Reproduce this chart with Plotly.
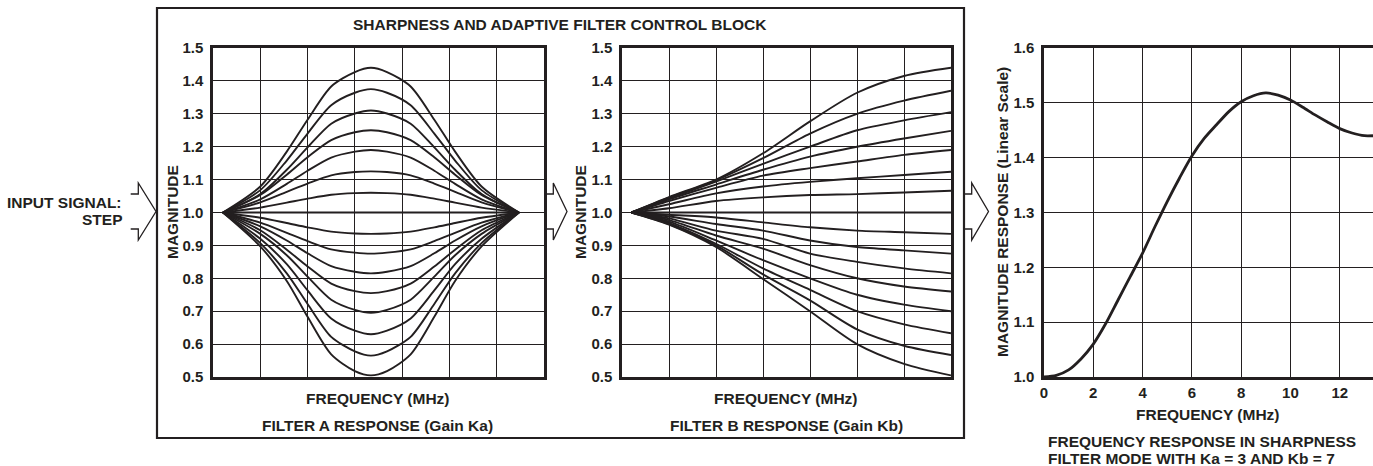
import plotly.graph_objects as go

# ---------------- data ----------------
# Filter A (left panel): symmetric bell-shaped responses, x in grid units (0..7)
A_X = [0.21, 1.0, 1.56, 2.0, 2.5, 3.0, 3.34, 3.68, 4.18, 4.68, 5.12, 5.68, 6.47]
A_144 = [1.0, 1.079, 1.185, 1.282, 1.383, 1.427, 1.44, 1.427, 1.383, 1.282, 1.185, 1.079, 1.0]
A_1375 = [1.0, 1.068, 1.158, 1.24, 1.326, 1.364, 1.375, 1.364, 1.326, 1.24, 1.158, 1.068, 1.0]
A_131 = [1.0, 1.056, 1.130, 1.198, 1.270, 1.301, 1.31, 1.301, 1.270, 1.198, 1.130, 1.056, 1.0]
A_125 = [1.0, 1.053, 1.115, 1.168, 1.22, 1.244, 1.25, 1.244, 1.22, 1.168, 1.115, 1.053, 1.0]
A_119 = [1.0, 1.040, 1.087, 1.127, 1.167, 1.185, 1.19, 1.185, 1.167, 1.127, 1.087, 1.040, 1.0]
A_1125 = [1.0, 1.031, 1.063, 1.088, 1.113, 1.123, 1.125, 1.123, 1.113, 1.088, 1.063, 1.031, 1.0]
A_106 = [1.0, 1.015, 1.03, 1.042, 1.054, 1.059, 1.06, 1.059, 1.054, 1.042, 1.03, 1.015, 1.0]
A_100 = [1.0, 1.0, 1.0, 1.0, 1.0, 1.0, 1.0, 1.0, 1.0, 1.0, 1.0, 1.0, 1.0]
A_0935 = [1.0, 0.984, 0.968, 0.955, 0.942, 0.936, 0.935, 0.936, 0.942, 0.955, 0.968, 0.984, 1.0]
A_0875 = [1.0, 0.969, 0.938, 0.913, 0.888, 0.878, 0.875, 0.878, 0.888, 0.913, 0.938, 0.969, 1.0]
A_0815 = [1.0, 0.958, 0.915, 0.876, 0.837, 0.820, 0.815, 0.820, 0.837, 0.876, 0.915, 0.958, 1.0]
A_0755 = [1.0, 0.946, 0.887, 0.836, 0.784, 0.761, 0.755, 0.761, 0.784, 0.836, 0.887, 0.946, 1.0]
A_0695 = [1.0, 0.935, 0.870, 0.805, 0.735, 0.704, 0.695, 0.704, 0.735, 0.805, 0.870, 0.935, 1.0]
A_063 = [1.0, 0.920, 0.843, 0.763, 0.678, 0.641, 0.63, 0.641, 0.678, 0.763, 0.843, 0.920, 1.0]
A_0565 = [1.0, 0.907, 0.815, 0.722, 0.622, 0.578, 0.565, 0.578, 0.622, 0.722, 0.815, 0.907, 1.0]
A_0505 = [1.0, 0.897, 0.792, 0.683, 0.569, 0.518, 0.505, 0.518, 0.569, 0.683, 0.792, 0.897, 1.0]
A_CURVES = [A_144, A_1375, A_131, A_125, A_119, A_1125, A_106, A_100,
            A_0935, A_0875, A_0815, A_0755, A_0695, A_063, A_0565, A_0505]

# Filter B (middle panel): high-frequency boost / cut responses
B_X = [0.2, 1, 2, 3, 4, 5, 6, 7]
B_144 = [1.0, 1.047, 1.100, 1.180, 1.277, 1.364, 1.415, 1.440]
B_137 = [1.0, 1.045, 1.098, 1.165, 1.240, 1.300, 1.340, 1.370]
B_130 = [1.0, 1.043, 1.094, 1.148, 1.200, 1.250, 1.280, 1.305]
B_125 = [1.0, 1.040, 1.085, 1.130, 1.170, 1.200, 1.225, 1.248]
B_119 = [1.0, 1.035, 1.075, 1.112, 1.135, 1.155, 1.175, 1.190]
B_112 = [1.0, 1.025, 1.058, 1.079, 1.093, 1.104, 1.114, 1.124]
B_106 = [1.0, 1.013, 1.035, 1.046, 1.053, 1.056, 1.061, 1.066]
B_100 = [1.0, 1.0, 1.0, 1.0, 1.0, 1.0, 1.0, 1.0]
B_0935 = [1.0, 0.993, 0.985, 0.970, 0.955, 0.945, 0.940, 0.935]
B_0875 = [1.0, 0.988, 0.965, 0.945, 0.915, 0.895, 0.885, 0.875]
B_0815 = [1.0, 0.982, 0.945, 0.920, 0.875, 0.850, 0.830, 0.815]
B_076 = [1.0, 0.977, 0.930, 0.890, 0.840, 0.800, 0.775, 0.760]
B_070 = [1.0, 0.972, 0.915, 0.855, 0.800, 0.750, 0.720, 0.700]
B_0635 = [1.0, 0.968, 0.905, 0.830, 0.765, 0.700, 0.660, 0.633]
B_057 = [1.0, 0.965, 0.900, 0.812, 0.733, 0.645, 0.595, 0.567]
B_0505 = [1.0, 0.963, 0.895, 0.798, 0.700, 0.600, 0.540, 0.505]
B_CURVES = [B_144, B_137, B_130, B_125, B_119, B_112, B_106, B_100,
            B_0935, B_0875, B_0815, B_076, B_070, B_0635, B_057, B_0505]

# Combined sharpness response (right panel)
R_FREQ = [0, 0.5, 1, 1.5, 2, 2.5, 3, 3.5, 4, 4.5, 5, 5.5, 6, 6.5, 7, 7.5, 8, 8.5,
          9, 9.5, 10, 10.5, 11, 11.5, 12, 12.5, 13, 13.35]
R_MAG = [1.0, 1.003, 1.013, 1.033, 1.06, 1.097, 1.14, 1.183, 1.226, 1.274, 1.32, 1.363,
         1.403, 1.435, 1.46, 1.484, 1.502, 1.513, 1.518, 1.514, 1.505, 1.492, 1.478,
         1.465, 1.453, 1.445, 1.44, 1.44]

MAG_TICKS = [0.5, 0.6, 0.7, 0.8, 0.9, 1.0, 1.1, 1.2, 1.3, 1.4, 1.5]
R_YTICKS = [1.0, 1.1, 1.2, 1.3, 1.4, 1.5, 1.6]
R_XTICKS = [0, 2, 4, 6, 8, 10, 12]

# ---------------- figure ----------------
W, H = 1373, 466
INK = "#231f20"
FONT = "Liberation Sans, Arial, Helvetica, sans-serif"


def fx(p):
    return p / W


def fy(p):
    return 1 - p / H


fig = go.Figure()

for ys in A_CURVES:
    fig.add_trace(go.Scatter(x=A_X, y=ys, mode="lines", xaxis="x", yaxis="y",
                             line=dict(color=INK, width=1.9, shape="spline", smoothing=0.8),
                             showlegend=False, hoverinfo="skip"))
for ys in B_CURVES:
    fig.add_trace(go.Scatter(x=B_X, y=ys, mode="lines", xaxis="x2", yaxis="y2",
                             line=dict(color=INK, width=1.9, shape="spline", smoothing=0.8),
                             showlegend=False, hoverinfo="skip"))
fig.add_trace(go.Scatter(x=R_FREQ, y=R_MAG, mode="lines", xaxis="x3", yaxis="y3",
                         line=dict(color=INK, width=2.8, shape="spline", smoothing=0.8),
                         showlegend=False, hoverinfo="skip"))

tickfont = dict(family=FONT, size=15, color=INK, weight="bold")
grid = dict(showgrid=True, gridcolor=INK, gridwidth=1.4, zeroline=False, automargin=False,
            showline=True, linecolor=INK, linewidth=2.5, ticks="")

xa_common = dict(range=[0, 7], tickvals=[1, 2, 3, 4, 5, 6], showticklabels=False,
                 mirror=True, **grid)
ya_common = dict(range=[0.5, 1.5], tickvals=MAG_TICKS, tickformat=".1f",
                 tickfont=tickfont, mirror=True, ticklabelstandoff=4, **grid)

yd = [fy(377), fy(48)]
fig.update_layout(
    width=W, height=H, autosize=False,
    margin=dict(l=0, r=0, t=0, b=0, pad=0, autoexpand=False),
    paper_bgcolor="white", plot_bgcolor="white",
    font=dict(family=FONT, color=INK),
    xaxis=dict(domain=[fx(213), fx(544)], anchor="y", **xa_common),
    yaxis=dict(domain=yd, anchor="x", **ya_common),
    xaxis2=dict(domain=[fx(622), fx(951)], anchor="y2", **xa_common),
    yaxis2=dict(domain=yd, anchor="x2", **ya_common),
    xaxis3=dict(domain=[fx(1044), 1.0], anchor="y3", range=[0, 13.35], tickvals=R_XTICKS,
                tickfont=tickfont, mirror=True, ticklabelstandoff=0, **grid),
    yaxis3=dict(domain=yd, anchor="x3", range=[1.0, 1.6], tickvals=R_YTICKS, tickformat=".1f",
                tickfont=tickfont, mirror=False, ticklabelstandoff=4, **grid),
)

# ---------------- text ----------------
TS = 15.5


def label(x, y, text, xanchor="center", angle=0, size=TS):
    fig.add_annotation(x=fx(x), y=fy(y), xref="paper", yref="paper", text="<b>%s</b>" % text,
                       showarrow=False, xanchor=xanchor, yanchor="middle", textangle=angle,
                       font=dict(family=FONT, size=size, color=INK))


label(559.5, 24, "SHARPNESS AND ADAPTIVE FILTER CONTROL BLOCK")
label(172, 212, "MAGNITUDE", angle=-90)
label(580, 212, "MAGNITUDE", angle=-90)
label(1002, 212, "MAGNITUDE RESPONSE (Linear Scale)", angle=-90)
label(378, 398, "FREQUENCY (MHz)")
label(786, 398, "FREQUENCY (MHz)")
label(1208, 414, "FREQUENCY (MHz)")
label(378, 425, "FILTER A RESPONSE (Gain Ka)")
label(786, 425, "FILTER B RESPONSE (Gain Kb)")
label(1046, 441, "FREQUENCY RESPONSE IN SHARPNESS", xanchor="left")
label(1046, 458, "FILTER MODE WITH Ka = 3 AND Kb = 7", xanchor="left")
label(124, 202.5, "INPUT SIGNAL:", xanchor="right")
label(124, 219.5, "STEP", xanchor="right")

# ---------------- shapes ----------------
fig.add_shape(type="rect", xref="paper", yref="paper",
              x0=fx(157), y0=fy(438), x1=fx(964), y1=fy(8),
              line=dict(color=INK, width=2.2))


def arrow(x_tail, x_base, x_tip, yc=211.5):
    pts = [(x_tail, yc - 17.5), (x_base, yc - 17.5), (x_base, yc - 28.5), (x_tip, yc),
           (x_base, yc + 28.5), (x_base, yc + 17.5), (x_tail, yc + 17.5)]
    path = "M " + " L ".join("%.5f,%.5f" % (fx(a), fy(b)) for a, b in pts)
    fig.add_shape(type="path", xref="paper", yref="paper", path=path,
                  line=dict(color=INK, width=1.3))


arrow(130.7, 138.3, 156)
arrow(545, 553.3, 567)
arrow(965, 971.7, 988.5)

fig.write_html(
    "out.html",
    config=dict(displayModeBar=False, responsive=False),
    post_script="document.body.style.margin='0';document.body.style.padding='0';"
                "document.body.style.overflow='hidden';",
)
